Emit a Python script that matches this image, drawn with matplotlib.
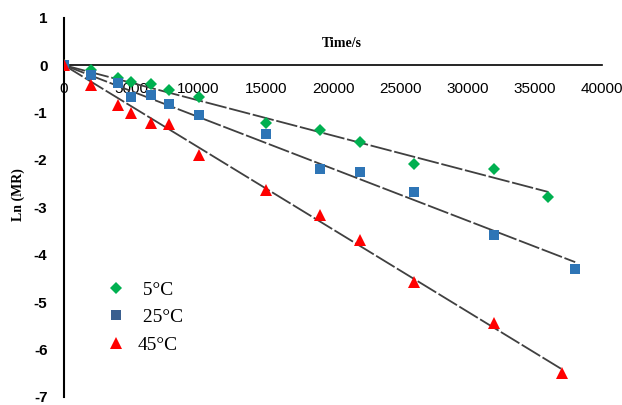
import numpy as np
import matplotlib.pyplot as plt
from matplotlib.lines import Line2D

# Tiempo (s) y Ln(MR) para cada temperatura
tiempo_5 = [0, 2000, 4000, 5000, 6500, 7800, 10000, 15000, 19000, 22000, 26000, 32000, 36000]
ln_mr_5 = [0, -0.10, -0.28, -0.36, -0.40, -0.53, -0.67, -1.22, -1.36, -1.62, -2.08, -2.18, -2.79]

tiempo_25 = [0, 2000, 4000, 5000, 6500, 7800, 10000, 15000, 19000, 22000, 26000, 32000, 38000]
ln_mr_25 = [0, -0.21, -0.37, -0.68, -0.62, -0.81, -1.06, -1.46, -2.20, -2.26, -2.68, -3.59, -4.31]

tiempo_45 = [0, 2000, 4000, 5000, 6500, 7800, 10000, 15000, 19000, 22000, 26000, 32000, 37000]
ln_mr_45 = [0, -0.42, -0.83, -1.00, -1.22, -1.25, -1.90, -2.64, -3.17, -3.68, -4.58, -5.45, -6.50]

etiquetas = [' 5°C', ' 25°C', '45°C']
x_ticks = [0, 5000, 10000, 15000, 20000, 25000, 30000, 35000, 40000]
y_ticks = [1, 0, -1, -2, -3, -4, -5, -6, -7]

series = [
    (tiempo_5, ln_mr_5, 'D', '#00B050', 6.5),
    (tiempo_25, ln_mr_25, 's', '#2E75B6', 7.5),
    (tiempo_45, ln_mr_45, '^', '#FF0000', 9),
]

fig = plt.figure(figsize=(6.22, 4.05), dpi=100)
ax = fig.add_axes([0.103, 0.02, 0.865, 0.936])

for x, y, m, c, ms in series:
    x = np.array(x, dtype=float)
    y = np.array(y, dtype=float)
    ax.plot(x, y, m, color=c, markersize=ms, markeredgewidth=0, zorder=3)
    # tendencia lineal por el origen
    k = np.sum(x * y) / np.sum(x * x)
    xs = np.array([0, x.max()])
    ax.plot(xs, k * xs, color='#404040', lw=1.3, ls=(0, (12, 1.5)), zorder=2)

ax.set_xlim(0, 40000)
ax.set_ylim(-7, 1)
ax.spines['left'].set_position(('data', 0))
ax.spines['bottom'].set_position(('data', 0))
ax.spines['right'].set_visible(False)
ax.spines['top'].set_visible(False)
ax.spines['left'].set_linewidth(1.5)
ax.spines['bottom'].set_linewidth(1.2)

ax.set_xticks(x_ticks)
ax.set_xticklabels([str(v) for v in x_ticks], family='Liberation Sans', fontsize=11)
ax.set_yticks(y_ticks)
ax.set_yticklabels([str(v) for v in y_ticks], family='Liberation Sans',
                   fontsize=11, fontweight='bold')
ax.tick_params(axis='x', length=0, pad=12)
ax.tick_params(axis='y', length=0, pad=12)
ax.xaxis.set_ticks_position('bottom')

fig.text(0.55, 0.893, 'Time/s', family='Liberation Serif', fontweight='bold',
         fontsize=10, ha='center', va='center')
fig.text(0.029, 0.52, 'Ln (MR)', family='Liberation Serif', fontweight='bold',
         fontsize=10, rotation=90, ha='center', va='center')

handles = [Line2D([], [], ls='', marker=m, color=c, markersize=ms * 0.9, markeredgewidth=0)
           for _, _, m, c, ms in series]
handles[1].set_color('#3A5F8F')
ax.legend(handles, etiquetas, loc='upper left', bbox_to_anchor=(0.043, 0.351),
          frameon=False, prop={'family': 'Liberation Serif', 'size': 14},
          handletextpad=0.5, labelspacing=0.5, handlelength=1.2)

fig.savefig('out.png', dpi=100)
